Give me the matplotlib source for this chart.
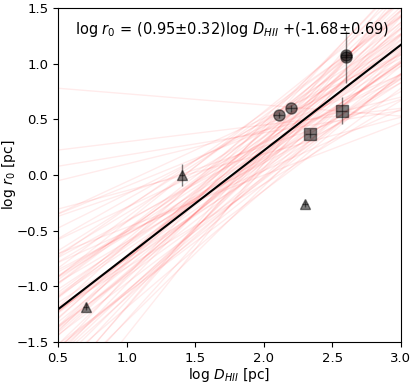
import matplotlib
matplotlib.use('Agg')
import matplotlib.pyplot as plt
import numpy as np

# fit result
slope_fit = 0.95
icpt_fit = -1.68

# bootstrap fits (slope, intercept)
boot_slope = [0.42, 0.55, 0.61, 0.68, 0.72, 0.75, 0.78, 0.81, 0.83, 0.85,
              0.87, 0.88, 0.90, 0.91, 0.93, 0.94, 0.95, 0.96, 0.97, 0.98,
              1.00, 1.01, 1.03, 1.04, 1.06, 1.08, 1.10, 1.12, 1.15, 1.18,
              1.21, 1.25, 1.30, 1.36, 1.45, 0.50, 0.64, 0.70, 0.79, 0.86,
              0.92, 0.99, 1.05, 1.13, 1.22, 0.58, 0.74, 0.89, 1.02, 1.17,
              0.33, 0.47, 1.40, 1.55, 0.80, 0.96, 1.09, 0.66, 0.84, -0.10,
              0.73, 0.91, 1.07, 1.27, 0.57, 0.98, 1.14, 0.76, 0.88, 1.33,
              0.20, 0.15, 0.30]
boot_icpt = [-0.58, -1.06, -0.78, -1.21, -1.14, -1.58, -1.07, -1.43, -1.32, -1.64,
             -1.51, -1.38, -1.69, -1.51, -1.90, -1.45, -1.70, -1.85, -1.59, -1.81,
             -1.73, -2.05, -1.61, -1.91, -1.81, -2.12, -1.99, -1.85, -2.20, -2.11,
             -2.52, -2.03, -2.43, -2.66, -2.63, -0.60, -1.17, -0.92, -1.54, -1.16,
             -1.98, -1.41, -2.24, -1.75, -2.31, -0.87, -1.08, -1.80, -1.74, -1.94,
             -0.47, -0.94, -2.59, -2.99, -1.31, -1.45, -2.19, -1.07, -1.51, 0.83,
             -1.33, -1.29, -1.95, -2.25, -0.63, -2.04, -1.94, -1.30, -1.63, -2.24,
             -0.02, 0.15, -0.20]

# data points
circ_x = [2.11, 2.20, 2.60, 2.60]
circ_y = [0.54, 0.60, 1.06, 1.08]
circ_err = [0.03, 0.03, 0.23, 0.03]
sq_x = [2.34, 2.57]
sq_y = [0.37, 0.58]
sq_err = [0.04, 0.12]
tri_x = [0.70, 1.40, 2.30]
tri_y = [-1.18, 0.0, -0.26]
tri_err = [0.03, 0.10, 0.03]

fig = plt.figure(figsize=(4.15, 3.84), dpi=100)
ax = fig.add_axes([0.14, 0.109, 0.826, 0.870])

xx = np.array([0.0, 4.0])
for m, b in zip(boot_slope, boot_icpt):
    ax.plot(xx, m * xx + b, color='red', alpha=0.08, lw=1)
ax.plot(xx, slope_fit * xx + icpt_fit, color='k', lw=1.5)

ax.errorbar(circ_x, circ_y, yerr=circ_err, xerr=0.04, fmt='o', color='k', alpha=0.5, ms=8, elinewidth=1)
ax.errorbar(sq_x, sq_y, yerr=sq_err, xerr=0.04, fmt='s', color='k', alpha=0.5, ms=8, elinewidth=1)
ax.errorbar(tri_x, tri_y, yerr=tri_err, xerr=0.02, fmt='^', color='k', alpha=0.5, ms=7, elinewidth=1)

ax.set_xlim(0.5, 3.0)
ax.set_ylim(-1.5, 1.5)
ax.set_xlabel('log $D_{HII}$ [pc]', fontsize=10, labelpad=1)
ax.set_ylabel('log $r_0$ [pc]', fontsize=10, labelpad=-1)
ax.tick_params(labelsize=9.5)
ax.text(0.05, 0.965, 'log $r_0$ = (0.95±0.32)log $D_{HII}$ +(-1.68±0.69)',
        transform=ax.transAxes, fontsize=10.5, va='top')

fig.savefig('out.png', dpi=100)
